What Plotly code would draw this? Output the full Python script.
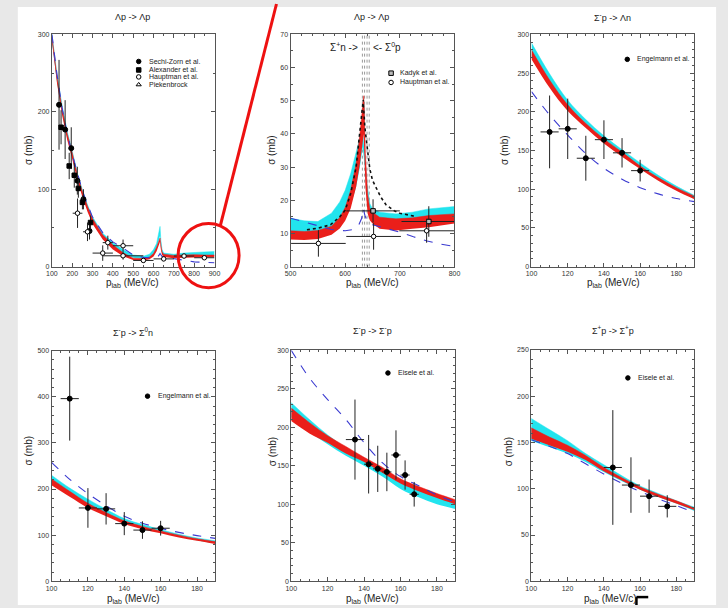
import plotly.graph_objects as go

W, H = 728, 608
FONT = "Liberation Sans, Arial, sans-serif"
CYAN = "#22e4ee"
RED = "#ea1f1a"
BLUE = "#3a3ad0"

# ---------------- Panel 1 : Λp -> Λp (100-900 MeV/c) ----------------
p1_x = [100, 125, 150, 175, 200, 225, 250, 275, 300, 350, 400, 450, 500, 550, 580, 600,
        615, 625, 632, 636, 642, 650, 700, 750, 800, 850, 900]
p1_cyan_lo = [290, 238, 198, 166, 141, 114, 92, 73, 58, 38, 26, 17, 11.5, 10, 11.5, 15,
              22, 32, 40, 28, 18, 13.5, 12.5, 13.5, 14.5, 14.5, 14.5]
p1_cyan_hi = [300, 248, 208, 175, 149, 121, 99, 80, 64, 43, 31, 22, 15, 13.5, 16, 22,
              30, 42, 52, 34, 22, 17.5, 16, 17.5, 18.5, 19, 19.5]
p1_red_lo = [291, 237, 196, 164, 139, 112, 90, 71, 55, 35, 22, 13.5, 8.5, 8, 9.5, 13,
             20, 27, 32, 22, 15, 12.5, 11, 11.5, 12, 12, 12]
p1_red_hi = [298, 245, 204, 172, 147, 119, 97, 78, 62, 41, 28, 18, 11, 10.5, 12.5, 17,
             25, 33, 37, 28, 19, 16, 14.5, 15, 15.5, 15, 15]
p1_dash = [300, 248, 205, 172, 145, 120, 98, 80, 64, 44, 32, 24, 15, 12, 11, 11,
           12, 14, 17, 15, 13, 12.5, 10.3, 7.8, 6.1, 5.5, 5]

sz_x = [135, 165, 195, 225, 255, 285]
sz_y = [209, 177, 153, 111, 87, 46]
sz_yerr = [58, 38, 27, 18, 13, 11]
sz_xerr = [10, 10, 10, 10, 10, 10]

al_x = [145, 185, 210, 230, 250, 290]
al_y = [180, 130, 118, 101, 83, 57]
al_yerr = [22, 17, 16, 12, 9, 9]
al_xerr = [5, 5, 10, 10, 10, 10]

ha1_x = [226, 275, 350, 375, 450, 450, 550, 650, 750, 850]
ha1_y = [69, 45, 17.5, 31, 27, 14, 8, 10, 13.7, 11.5]
ha1_yerr = [19, 12, 10, 9, 8, 5, 3, 3, 3, 3]
ha1_xerr = [24, 22, 50, 25, 50, 100, 50, 50, 50, 50]

p1_legend = ["Sechi-Zorn et al.", "Alexander et al.", "Hauptman et al.", "Piekenbrock"]
p1_legend_y = [265, 254, 245, 235]

# ---------------- Panel 2 : Λp -> Λp (500-800 MeV/c) ----------------
p2_red_x = [500, 525, 550, 575, 590, 600, 610, 620, 627, 632, 634, 637, 641, 645, 650,
            663, 693, 723, 753, 800]
p2_red_lo = [8.2, 8.0, 8.3, 9.6, 11.5, 13.8, 17.5, 24, 31, 38, 40, 24, 16, 14, 13,
             11.4, 10.9, 11.4, 11.9, 13.0]
p2_red_hi = [10.8, 10.6, 10.9, 12.2, 14.8, 17.8, 23, 31, 40, 50, 51.5, 34, 22, 17.5, 16.4,
             14.9, 14.4, 14.7, 15.4, 15.9]
p2_cyan_x = [500, 525, 550, 575, 590, 600, 610, 620, 627, 632, 636, 640, 645, 650,
             663, 693, 723, 753, 800]
p2_cyan_lo = [10.6, 10.2, 10.1, 11.6, 13.5, 15.5, 18.5, 24, 30, 36, 30, 22, 16.5, 13.9,
              13.0, 12.4, 13.1, 13.9, 14.9]
p2_cyan_hi = [14.6, 13.8, 13.6, 16.1, 19.5, 23, 28, 34, 39, 41, 34, 25, 19, 17.4,
              16.4, 15.9, 16.4, 17.4, 18.1]
p2_dash_x = [500, 525, 550, 575, 600, 615, 625, 630, 633, 636, 640, 650, 675, 700, 725,
             750, 775, 800]
p2_dash_y = [14.6, 13.5, 12.4, 11.2, 10.8, 11.2, 12.6, 14.5, 17.5, 15.5, 13.8, 12.6, 11.5,
             10.4, 9.0, 7.7, 6.8, 6.1]
p2_dot_x = [530, 550, 573, 590, 600, 610, 620, 627, 633, 636, 640, 645, 650, 657, 665,
            675, 690, 700, 715, 729]
p2_dot_y = [11.1, 11.6, 12.6, 15, 17, 22, 30, 40.4, 50.3, 42, 35.5, 29.5, 26, 23.5, 21,
            18.6, 16.8, 16.1, 15.5, 15.1]
p2_thresholds = [631.5, 635.5, 640, 644]

ka_x = [651, 753]
ka_y = [16.8, 13.6]
ka_yerr = [3.5, 4.6]
ka_xerr = [49, 50]
ha2_x = [551, 652, 749]
ha2_y = [7.0, 9.1, 10.8]
ha2_yerr = [4.0, 4.0, 3.6]
ha2_xerr = [50, 50, 50]
p2_legend = ["Kadyk et al.", "Hauptman et al."]
p2_legend_y = [58.3, 55.5]

# ---------------- Panels 3-6 : 100-190 MeV/c ----------------
lo_x = [100, 110, 120, 130, 140, 150, 160, 170, 180, 190]

# Σ-p -> Λn
p3_red_lo = [268, 231, 201, 179, 159, 142, 126, 111, 98, 87]
p3_red_hi = [280, 241, 209, 185, 165, 148, 130, 115, 102, 91]
p3_cyan_lo = [270, 233, 203, 181, 161, 144, 128, 113, 100, 88]
p3_cyan_hi = [289, 249, 215, 190, 169, 151, 134, 118, 104, 92]
p3_dash = [226, 196, 170, 146, 127, 113, 102, 94, 88, 84]
en3_x = [110, 120, 130, 140, 150, 160]
en3_y = [174, 178, 140, 164, 147, 124]
en3_yerr = [47, 39, 29, 25, 19, 14]

# Σ-p -> Σ0n
p4_red_lo = [208, 183, 159, 141, 124, 113, 104, 95, 88, 81]
p4_red_hi = [222, 195, 169, 149, 131, 119, 109, 100, 92, 86]
p4_cyan_lo = [213, 188, 163, 144, 126, 115, 106, 97, 89, 82]
p4_cyan_hi = [230, 202, 178, 156, 136, 123, 112, 102, 94, 88]
p4_dash = [258, 221, 190, 164, 141, 126, 115, 106, 99, 93]
en4_x = [110, 120, 130, 140, 150, 160]
en4_y = [396, 159, 157, 125, 111, 115]
en4_yerr = [91, 43, 34, 25, 19, 16]

# Σ-p -> Σ-p
p5_red_lo = [208, 192, 180, 166, 155, 141, 127, 117, 108, 100]
p5_red_hi = [225, 206, 189, 175, 161, 148, 133, 123, 114, 106]
p5_cyan_lo = [213, 194, 178, 163, 150, 136, 120, 109, 100, 94]
p5_cyan_hi = [232, 210, 190, 173, 159, 146, 131, 119, 110, 103]
p5_dash = [300, 264, 236, 210, 180, 154, 136, 124, 112, 103]
ei5_x = [135, 142.5, 147.5, 152.5, 157.5, 162.5, 167.5]
ei5_y = [184, 152, 146, 142, 164, 138, 113]
ei5_yerr = [52, 38, 30, 25, 32, 19, 16]
ei5_xerr = [5, 2.5, 2.5, 2.5, 2.5, 2.5, 2.5]

# Σ+p -> Σ+p
p6_red_lo = [154, 147, 140, 131, 119, 109, 99, 91, 84, 77]
p6_red_hi = [166, 156, 147, 136, 123, 112, 102, 94, 87, 79]
p6_cyan_lo = [152, 145, 138, 129, 118, 108, 99, 91, 84, 76]
p6_cyan_hi = [176, 164, 152, 138, 126, 114, 103, 95, 87, 80]
p6_dash = [153, 146, 138, 127, 116, 106, 97, 89, 82, 74]
ei6_x = [145, 155, 165, 175]
ei6_y = [123, 104, 92, 81]
ei6_yerr = [62, 30, 18, 12]

titles = ["Λp -> Λp", "Λp -> Λp", "Σ<sup>-</sup>p -> Λn",
          "Σ<sup>-</sup>p -> Σ<sup>0</sup>n", "Σ<sup>-</sup>p -> Σ<sup>-</sup>p",
          "Σ<sup>+</sup>p -> Σ<sup>+</sup>p"]

# ---------------- layout helpers ----------------
def pxx(v):
    return v / W


def pyy(v):
    return 1 - v / H


panels = [
    dict(xd=(46.7, 212), yd=(30.7, 265.7), xr=(100, 900), yr=(0, 300), xdt=100, xm=50, ydt=100, ym=50,
         title_at=(129, 13), xt_at=(129, 282), yt_at=(23, 148)),
    dict(xd=(289.3, 456), yd=(30.7, 265.7), xr=(500, 800), yr=(0, 70), xdt=100, xm=20, ydt=10, ym=5,
         title_at=(372, 13), xt_at=(373, 282), yt_at=(270, 148)),
    dict(xd=(534.3, 700), yd=(30.7, 265.7), xr=(100, 190), yr=(0, 300), xdt=20, xm=5, ydt=50, ym=10,
         title_at=(617, 13), xt_at=(618, 282), yt_at=(507, 148)),
    dict(xd=(46.3, 212.7), yd=(350.7, 584), xr=(100, 190), yr=(0, 500), xdt=20, xm=5, ydt=100, ym=20,
         title_at=(129, 331.5), xt_at=(130, 601.5), yt_at=(23, 452)),
    dict(xd=(290, 456.7), yd=(350.3, 584), xr=(100, 190), yr=(0, 300), xdt=20, xm=5, ydt=50, ym=10,
         title_at=(373, 330), xt_at=(373, 601.5), yt_at=(271, 453)),
    dict(xd=(534, 700), yd=(350, 584), xr=(100, 190), yr=(0, 250), xdt=20, xm=5, ydt=50, ym=10,
         title_at=(617, 330), xt_at=(615, 601.5), yt_at=(511, 453)),
]

fig = go.Figure()
layout = dict(
    width=W, height=H, margin=dict(l=0, r=0, t=0, b=0),
    paper_bgcolor="#e8e8e8", plot_bgcolor="white", showlegend=False,
    font=dict(family=FONT, color="#222"),
)
annotations = []
shapes = [dict(type="rect", xref="paper", yref="paper", x0=pxx(12), x1=pxx(722), y0=0, y1=pyy(3),
               fillcolor="white", line=dict(width=0), layer="below")]

for i, p in enumerate(panels):
    n = "" if i == 0 else str(i + 1)
    ax_common = dict(ticks="inside", ticklen=4, tickwidth=1, tickcolor="#555", showline=True,
                     linecolor="#555", linewidth=1, mirror="ticks", showgrid=False, zeroline=False,
                     tickfont=dict(size=7, color="#333", family=FONT))
    layout["xaxis" + n] = dict(domain=[pxx(p["xd"][0]), pxx(p["xd"][1])], range=list(p["xr"]),
                               tick0=p["xr"][0], dtick=p["xdt"], anchor="y" + n,
                               minor=dict(dtick=p["xm"], ticks="inside", ticklen=2, tickcolor="#555"),
                               **ax_common)
    layout["yaxis" + n] = dict(domain=[pyy(p["yd"][1]), pyy(p["yd"][0])], range=list(p["yr"]),
                               tick0=0, dtick=p["ydt"], anchor="x" + n,
                               minor=dict(dtick=p["ym"], ticks="inside", ticklen=2, tickcolor="#555"),
                               **ax_common)
    annotations.append(dict(text=titles[i], x=pxx(p["title_at"][0]), y=pyy(p["title_at"][1]),
                            xref="paper", yref="paper", showarrow=False, font=dict(size=9),
                            xanchor="center", yanchor="middle"))
    annotations.append(dict(text="p<sub>lab</sub> (MeV/c)", x=pxx(p["xt_at"][0]), y=pyy(p["xt_at"][1]),
                            xref="paper", yref="paper", showarrow=False, font=dict(size=10),
                            xanchor="center", yanchor="middle"))
    annotations.append(dict(text="σ (mb)", x=pxx(p["yt_at"][0]), y=pyy(p["yt_at"][1]), textangle=-90,
                            xref="paper", yref="paper", showarrow=False, font=dict(size=10),
                            xanchor="center", yanchor="middle"))


def axes(i):
    n = "" if i == 0 else str(i + 1)
    return "x" + n, "y" + n


def band(i, xs, lo, hi, color, shape="linear"):
    xa, ya = axes(i)
    fig.add_trace(go.Scatter(x=xs, y=lo, mode="lines", line=dict(width=0, color=color, shape=shape),
                             hoverinfo="skip", xaxis=xa, yaxis=ya))
    fig.add_trace(go.Scatter(x=xs, y=hi, mode="lines", fill="tonexty", fillcolor=color,
                             line=dict(width=0.5, color=color, shape=shape),
                             hoverinfo="skip", xaxis=xa, yaxis=ya))


def line(i, xs, ys, color, dash, width=1.1, shape="linear"):
    xa, ya = axes(i)
    fig.add_trace(go.Scatter(x=xs, y=ys, mode="lines", line=dict(color=color, dash=dash, width=width, shape=shape),
                             hoverinfo="skip", xaxis=xa, yaxis=ya))


def points(i, xs, ys, yerr, xerr, symbol="circle", fill="black", size=5):
    xa, ya = axes(i)
    fig.add_trace(go.Scatter(
        x=xs, y=ys, mode="markers",
        marker=dict(symbol=symbol, size=size, color=fill, line=dict(color="black", width=1)),
        error_y=dict(type="data", array=yerr, thickness=1, width=0, color="#222"),
        error_x=dict(type="data", array=xerr, thickness=1, width=0, color="#222"),
        xaxis=xa, yaxis=ya))


def legend_entry(i, x_marker, x_text, y, label, symbol="circle", fill="black"):
    xa, ya = axes(i)
    fig.add_trace(go.Scatter(x=[x_marker], y=[y], mode="markers",
                             marker=dict(symbol=symbol, size=4.5, color=fill, line=dict(color="black", width=1)),
                             xaxis=xa, yaxis=ya, hoverinfo="skip"))
    annotations.append(dict(text=label, x=x_text, y=y, xref=xa, yref=ya, showarrow=False,
                            xanchor="left", yanchor="middle", font=dict(size=7, color="#222")))


# Panel 1
band(0, p1_x, p1_cyan_lo, p1_cyan_hi, CYAN)
band(0, p1_x, p1_red_lo, p1_red_hi, RED)
line(0, p1_x, p1_dash, BLUE, "dash")
points(0, sz_x, sz_y, sz_yerr, sz_xerr)
points(0, al_x, al_y, al_yerr, al_xerr, symbol="square", size=4.5)
points(0, ha1_x, ha1_y, ha1_yerr, ha1_xerr, fill="white", size=4.5)
legend_entry(0, 527, 567, p1_legend_y[0], p1_legend[0])
legend_entry(0, 527, 567, p1_legend_y[1], p1_legend[1], symbol="square")
legend_entry(0, 527, 567, p1_legend_y[2], p1_legend[2], fill="white")
legend_entry(0, 527, 567, p1_legend_y[3], p1_legend[3], symbol="triangle-up-open", fill="black")

# Panel 2
for t in p2_thresholds:
    line(1, [t, t], [0, 70], "#9a9a9a", "dot", width=1)
band(1, p2_cyan_x, p2_cyan_lo, p2_cyan_hi, CYAN)
band(1, p2_red_x, p2_red_lo, p2_red_hi, RED)
line(1, p2_dash_x, p2_dash_y, BLUE, "dash")
line(1, p2_dot_x, p2_dot_y, "#111", "dot", width=1.6)
points(1, ka_x, ka_y, ka_yerr, ka_xerr, symbol="square", fill="#bbb", size=4.5)
points(1, ha2_x, ha2_y, ha2_yerr, ha2_xerr, fill="white", size=4.5)
legend_entry(1, 684, 696, p2_legend_y[0], p2_legend[0], symbol="square", fill="#bbb")
legend_entry(1, 684, 696, p2_legend_y[1], p2_legend[1], fill="white")
annotations.append(dict(text="Σ<sup>+</sup>n ->", x=628, y=66.3, xref="x2", yref="y2", showarrow=False,
                        xanchor="right", yanchor="middle", font=dict(size=10)))
annotations.append(dict(text="<- Σ<sup>0</sup>p", x=648, y=66.3, xref="x2", yref="y2", showarrow=False,
                        xanchor="left", yanchor="middle", font=dict(size=10)))

# Panels 3-6
low_panels = [
    (2, p3_cyan_lo, p3_cyan_hi, p3_red_lo, p3_red_hi, p3_dash, en3_x, en3_y, en3_yerr, [5] * 6,
     "Engelmann et al.", 152.9, 157.4, 267.7),
    (3, p4_cyan_lo, p4_cyan_hi, p4_red_lo, p4_red_hi, p4_dash, en4_x, en4_y, en4_yerr, [5] * 6,
     "Engelmann et al.", 152.8, 157.5, 401.4),
    (4, p5_cyan_lo, p5_cyan_hi, p5_red_lo, p5_red_hi, p5_dash, ei5_x, ei5_y, ei5_yerr, ei5_xerr,
     "Eisele et al.", 153.1, 157.6, 270.5),
    (5, p6_cyan_lo, p6_cyan_hi, p6_red_lo, p6_red_hi, p6_dash, ei6_x, ei6_y, ei6_yerr, [5] * 4,
     "Eisele et al.", 153.3, 157.5, 219.8),
]
for (i, clo, chi, rlo, rhi, dsh, dx, dy, dye, dxe, lab, lxm, lxt, ly) in low_panels:
    band(i, lo_x, clo, chi, CYAN, shape="spline")
    band(i, lo_x, rlo, rhi, RED, shape="spline")
    line(i, lo_x, dsh, BLUE, "dash", shape="spline")
    points(i, dx, dy, dye, dxe)
    legend_entry(i, lxm, lxt, ly, lab)

# Slide decorations: red callout line + circle, and corner mark
shapes.append(dict(type="line", xref="paper", yref="paper", x0=pxx(275), y0=1.0, x1=pxx(218), y1=pyy(224),
                   line=dict(color="#ee1111", width=3)))
shapes.append(dict(type="circle", xref="paper", yref="paper", x0=pxx(175), x1=pxx(237), y0=pyy(287), y1=pyy(222),
                   line=dict(color="#ee1111", width=3)))
shapes.append(dict(type="line", xref="paper", yref="paper", x0=pxx(641), y0=pyy(600), x1=pxx(653), y1=pyy(600),
                   line=dict(color="black", width=2.5)))
shapes.append(dict(type="line", xref="paper", yref="paper", x0=pxx(641), y0=pyy(600), x1=pxx(641), y1=0,
                   line=dict(color="black", width=2.5)))

layout["annotations"] = annotations
layout["shapes"] = shapes
fig.update_layout(**layout)
fig.write_html("out.html")
